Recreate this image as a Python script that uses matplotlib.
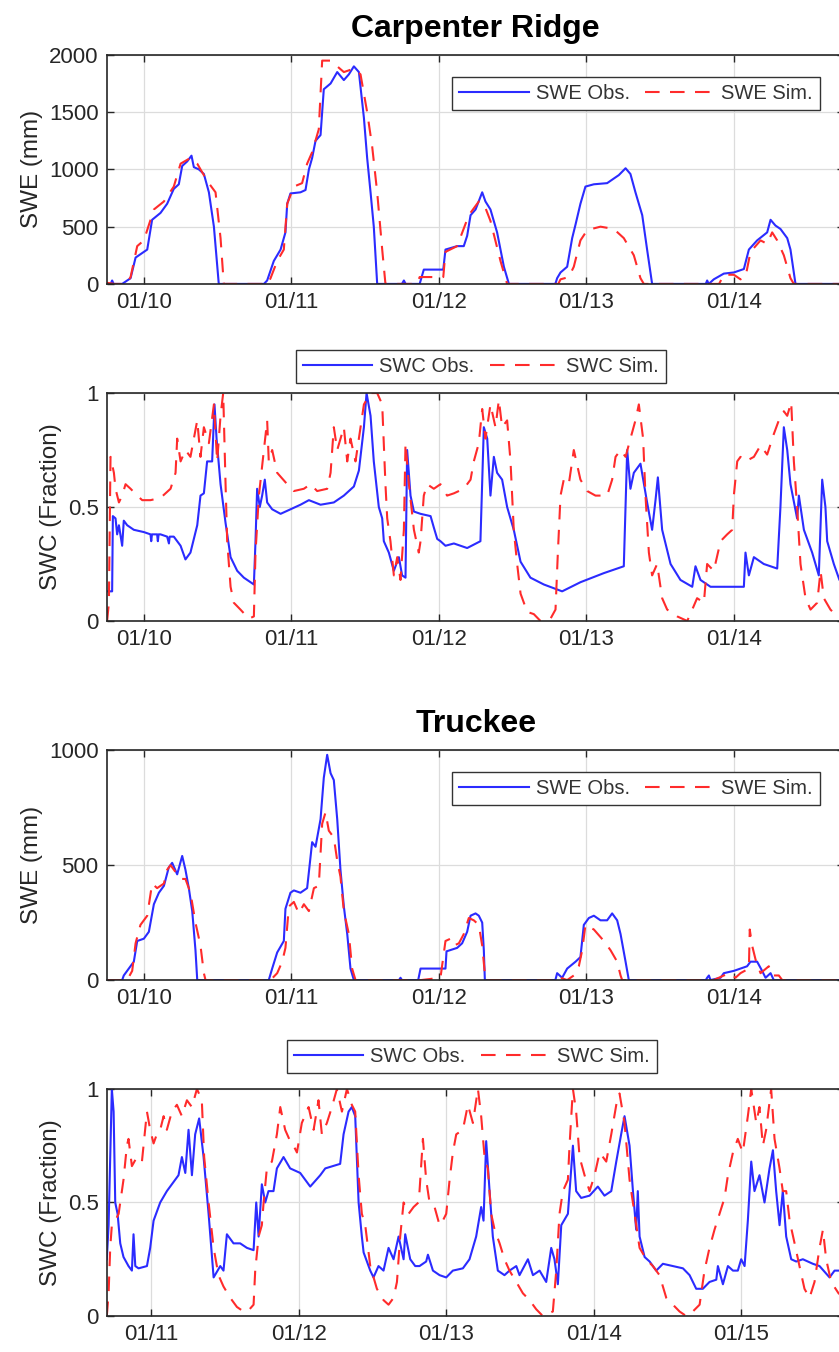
"""Snow water equivalent and snow water content at two sites"""
import matplotlib.pyplot as plt

plt.rcParams['font.family'] = ['Liberation Sans', 'DejaVu Sans']

# Carpenter Ridge, SWE (mm): (decimal year, value)
cr_swe_obs = [
    (2009.75, 0), (2009.775, 0), (2009.785, 30), (2009.795, 0), (2009.853, 0),
    (2009.91, 50), (2009.944, 230), (2010.023, 300), (2010.056, 560),
    (2010.113, 620), (2010.158, 700), (2010.203, 830), (2010.237, 870),
    (2010.26, 1030), (2010.294, 1070), (2010.323, 1120), (2010.339, 1020),
    (2010.373, 1000), (2010.407, 960), (2010.441, 800), (2010.475, 500),
    (2010.508, 0), (2010.814, 0), (2010.836, 30), (2010.881, 200),
    (2010.927, 300), (2010.96, 450), (2010.972, 700), (2010.994, 790),
    (2011.062, 800), (2011.096, 820), (2011.119, 1000), (2011.141, 1100),
    (2011.164, 1250), (2011.198, 1300), (2011.22, 1700), (2011.266, 1750),
    (2011.311, 1850), (2011.356, 1780), (2011.39, 1830), (2011.424, 1900),
    (2011.458, 1850), (2011.492, 1450), (2011.514, 1100), (2011.537, 800),
    (2011.559, 500), (2011.582, 0), (2011.75, 0), (2011.763, 30),
    (2011.775, 0), (2011.87, 0), (2011.898, 125), (2012.03, 125),
    (2012.045, 300), (2012.124, 330), (2012.169, 330), (2012.192, 420),
    (2012.215, 600), (2012.249, 650), (2012.294, 800), (2012.316, 720),
    (2012.35, 650), (2012.395, 450), (2012.441, 150), (2012.475, 0),
    (2012.79, 0), (2012.802, 50), (2012.825, 100), (2012.87, 150),
    (2012.904, 400), (2012.927, 520), (2012.96, 700), (2012.994, 850),
    (2013.051, 870), (2013.141, 880), (2013.186, 920), (2013.22, 950),
    (2013.266, 1010), (2013.299, 960), (2013.333, 800), (2013.379, 600),
    (2013.412, 300), (2013.446, 0), (2013.81, 0), (2013.819, 30),
    (2013.83, 0), (2013.864, 40), (2013.932, 90), (2014.0, 100),
    (2014.068, 130), (2014.102, 300), (2014.158, 380), (2014.226, 450),
    (2014.249, 560), (2014.282, 510), (2014.316, 480), (2014.362, 400),
    (2014.384, 300), (2014.418, 0), (2014.75, 0),
]
cr_swe_sim = [
    (2009.75, 10), (2009.8, 0), (2009.88, 0), (2009.91, 60), (2009.955, 330),
    (2010.0, 380), (2010.068, 650), (2010.136, 720), (2010.203, 850),
    (2010.249, 1050), (2010.316, 1100), (2010.362, 1050), (2010.429, 900),
    (2010.486, 800), (2010.52, 400), (2010.542, 0), (2010.84, 0),
    (2010.859, 50), (2010.904, 200), (2010.949, 300), (2010.972, 700),
    (2011.017, 850), (2011.073, 880), (2011.107, 1050), (2011.141, 1150),
    (2011.186, 1350), (2011.209, 1950), (2011.266, 1950), (2011.311, 1900),
    (2011.356, 1850), (2011.424, 1880), (2011.469, 1830), (2011.514, 1500),
    (2011.548, 1200), (2011.582, 800), (2011.616, 300), (2011.638, 0),
    (2011.85, 0), (2011.87, 60), (2011.989, 60), (2012.03, 60),
    (2012.045, 280), (2012.124, 330), (2012.203, 600), (2012.271, 720),
    (2012.305, 700), (2012.35, 550), (2012.418, 200), (2012.463, 0),
    (2012.81, 0), (2012.825, 40), (2012.881, 60), (2012.915, 150),
    (2012.96, 380), (2013.006, 470), (2013.096, 500), (2013.186, 480),
    (2013.254, 400), (2013.322, 250), (2013.367, 50), (2013.39, 0),
    (2013.9, 0), (2013.932, 80), (2014.0, 80), (2014.023, 60),
    (2014.045, 40), (2014.079, 60), (2014.113, 280), (2014.181, 380),
    (2014.226, 350), (2014.26, 450), (2014.294, 380), (2014.339, 250),
    (2014.384, 50), (2014.407, 0), (2014.75, 0),
]

# Carpenter Ridge, SWC (fraction)
cr_swc_obs = [
    (2009.751, 0.13), (2009.785, 0.13), (2009.79, 0.46), (2009.808, 0.45),
    (2009.819, 0.38), (2009.831, 0.42), (2009.853, 0.33), (2009.864, 0.44),
    (2009.887, 0.42), (2009.932, 0.40), (2010.0, 0.39), (2010.045, 0.38),
    (2010.05, 0.35), (2010.055, 0.38), (2010.09, 0.38), (2010.095, 0.35),
    (2010.1, 0.38), (2010.113, 0.38), (2010.158, 0.37), (2010.17, 0.34),
    (2010.175, 0.37), (2010.203, 0.37), (2010.249, 0.33), (2010.282, 0.27),
    (2010.316, 0.30), (2010.362, 0.42), (2010.384, 0.55), (2010.407, 0.56),
    (2010.429, 0.70), (2010.463, 0.70), (2010.479, 0.95), (2010.493, 0.80),
    (2010.52, 0.60), (2010.554, 0.43), (2010.588, 0.28), (2010.633, 0.22),
    (2010.678, 0.19), (2010.746, 0.16), (2010.757, 0.35), (2010.768, 0.58),
    (2010.786, 0.50), (2010.802, 0.55), (2010.82, 0.62), (2010.836, 0.52),
    (2010.87, 0.49), (2010.927, 0.47), (2010.994, 0.49), (2011.062, 0.51),
    (2011.119, 0.53), (2011.198, 0.51), (2011.288, 0.52), (2011.356, 0.55),
    (2011.424, 0.59), (2011.458, 0.66), (2011.492, 0.85), (2011.51, 1.0),
    (2011.537, 0.90), (2011.559, 0.70), (2011.593, 0.50), (2011.616, 0.45),
    (2011.627, 0.35), (2011.661, 0.30), (2011.695, 0.22), (2011.729, 0.28),
    (2011.751, 0.20), (2011.774, 0.19), (2011.785, 0.75), (2011.808, 0.55),
    (2011.831, 0.48), (2011.876, 0.47), (2011.944, 0.46), (2011.966, 0.41),
    (2011.989, 0.36), (2012.011, 0.35), (2012.045, 0.33), (2012.102, 0.34),
    (2012.192, 0.32), (2012.282, 0.35), (2012.305, 0.85), (2012.328, 0.80),
    (2012.35, 0.55), (2012.373, 0.72), (2012.395, 0.65), (2012.429, 0.62),
    (2012.463, 0.50), (2012.508, 0.40), (2012.554, 0.26), (2012.621, 0.19),
    (2012.712, 0.16), (2012.836, 0.13), (2012.96, 0.17), (2013.119, 0.21),
    (2013.254, 0.24), (2013.277, 0.75), (2013.299, 0.58), (2013.322, 0.65),
    (2013.367, 0.69), (2013.412, 0.52), (2013.446, 0.40), (2013.469, 0.53),
    (2013.485, 0.63), (2013.514, 0.40), (2013.571, 0.25), (2013.638, 0.18),
    (2013.718, 0.15), (2013.74, 0.24), (2013.774, 0.18), (2013.842, 0.15),
    (2013.91, 0.15), (2014.068, 0.15), (2014.079, 0.30), (2014.102, 0.20),
    (2014.136, 0.28), (2014.203, 0.25), (2014.294, 0.23), (2014.316, 0.50),
    (2014.339, 0.85), (2014.362, 0.75), (2014.384, 0.60), (2014.429, 0.45),
    (2014.441, 0.55), (2014.475, 0.40), (2014.531, 0.30), (2014.576, 0.20),
    (2014.599, 0.62), (2014.621, 0.50), (2014.633, 0.35), (2014.678, 0.25),
    (2014.716, 0.18), (2014.75, 0.16),
]
cr_swc_sim = [
    (2009.751, 0.0), (2009.763, 0.08), (2009.774, 0.72), (2009.797, 0.65),
    (2009.808, 0.58), (2009.831, 0.52), (2009.853, 0.55), (2009.876, 0.60),
    (2009.91, 0.58), (2009.955, 0.55), (2009.989, 0.53), (2010.045, 0.53),
    (2010.113, 0.54), (2010.181, 0.58), (2010.215, 0.65), (2010.226, 0.80),
    (2010.249, 0.70), (2010.282, 0.75), (2010.316, 0.72), (2010.362, 0.88),
    (2010.384, 0.72), (2010.407, 0.85), (2010.441, 0.78), (2010.475, 0.95),
    (2010.497, 0.70), (2010.52, 0.90), (2010.538, 1.0), (2010.554, 0.60),
    (2010.565, 0.35), (2010.588, 0.15), (2010.61, 0.08), (2010.655, 0.05),
    (2010.712, 0.01), (2010.746, 0.02), (2010.757, 0.30), (2010.78, 0.55),
    (2010.814, 0.75), (2010.836, 0.88), (2010.847, 0.70), (2010.87, 0.75),
    (2010.904, 0.65), (2010.972, 0.60), (2011.017, 0.57), (2011.085, 0.58),
    (2011.13, 0.60), (2011.175, 0.57), (2011.243, 0.58), (2011.266, 0.65),
    (2011.288, 0.85), (2011.311, 0.75), (2011.356, 0.85), (2011.379, 0.70),
    (2011.401, 0.80), (2011.435, 0.70), (2011.469, 0.85), (2011.492, 0.95),
    (2011.537, 1.0), (2011.582, 1.0), (2011.616, 0.95), (2011.638, 0.60),
    (2011.65, 0.45), (2011.672, 0.35), (2011.695, 0.20), (2011.718, 0.28),
    (2011.74, 0.18), (2011.763, 0.40), (2011.774, 0.78), (2011.797, 0.60),
    (2011.831, 0.40), (2011.864, 0.30), (2011.876, 0.35), (2011.898, 0.55),
    (2011.921, 0.60), (2011.966, 0.58), (2012.011, 0.60), (2012.056, 0.55),
    (2012.102, 0.56), (2012.169, 0.58), (2012.215, 0.62), (2012.237, 0.70),
    (2012.271, 0.78), (2012.294, 0.93), (2012.316, 0.80), (2012.35, 0.95),
    (2012.384, 0.85), (2012.407, 0.97), (2012.429, 0.85), (2012.463, 0.88),
    (2012.486, 0.70), (2012.508, 0.40), (2012.531, 0.25), (2012.554, 0.12),
    (2012.599, 0.04), (2012.644, 0.03), (2012.689, 0.0), (2012.757, 0.01),
    (2012.791, 0.05), (2012.807, 0.30), (2012.825, 0.55), (2012.847, 0.62),
    (2012.881, 0.60), (2012.915, 0.75), (2012.96, 0.62), (2013.006, 0.57),
    (2013.062, 0.55), (2013.141, 0.55), (2013.175, 0.62), (2013.198, 0.72),
    (2013.232, 0.75), (2013.266, 0.72), (2013.299, 0.80), (2013.333, 0.88),
    (2013.356, 0.95), (2013.385, 0.80), (2013.401, 0.55), (2013.424, 0.30),
    (2013.446, 0.20), (2013.48, 0.25), (2013.514, 0.10), (2013.548, 0.05),
    (2013.616, 0.02), (2013.684, 0.0), (2013.718, 0.05), (2013.751, 0.10),
    (2013.797, 0.08), (2013.819, 0.25), (2013.864, 0.22), (2013.91, 0.35),
    (2013.955, 0.38), (2013.989, 0.40), (2014.0, 0.55), (2014.023, 0.70),
    (2014.045, 0.72), (2014.079, 0.70), (2014.136, 0.72), (2014.181, 0.77),
    (2014.226, 0.73), (2014.271, 0.82), (2014.305, 0.88), (2014.339, 0.92),
    (2014.362, 0.90), (2014.389, 0.96), (2014.407, 0.70), (2014.429, 0.50),
    (2014.452, 0.25), (2014.486, 0.10), (2014.52, 0.05), (2014.565, 0.08),
    (2014.588, 0.22), (2014.61, 0.10), (2014.655, 0.05), (2014.701, 0.02),
    (2014.75, 0.0),
]

# Truckee, SWE (mm)
tr_swe_obs = [
    (2009.75, 0), (2009.853, 0), (2009.864, 20), (2009.898, 50),
    (2009.932, 80), (2009.955, 170), (2010.0, 180), (2010.034, 210),
    (2010.068, 330), (2010.102, 380), (2010.136, 410), (2010.169, 490),
    (2010.192, 510), (2010.226, 460), (2010.26, 540), (2010.282, 480),
    (2010.305, 400), (2010.328, 300), (2010.35, 130), (2010.362, 0),
    (2010.847, 0), (2010.87, 50), (2010.904, 120), (2010.949, 170),
    (2010.96, 310), (2010.994, 380), (2011.017, 390), (2011.062, 380),
    (2011.107, 400), (2011.141, 600), (2011.164, 580), (2011.198, 700),
    (2011.22, 880), (2011.243, 980), (2011.266, 900), (2011.288, 870),
    (2011.311, 700), (2011.333, 480), (2011.356, 320), (2011.379, 200),
    (2011.401, 50), (2011.424, 0), (2011.73, 0), (2011.74, 10),
    (2011.75, 0), (2011.86, 0), (2011.876, 50), (2012.045, 50),
    (2012.052, 125), (2012.124, 140), (2012.158, 160), (2012.192, 210),
    (2012.215, 280), (2012.249, 290), (2012.271, 280), (2012.294, 250),
    (2012.305, 130), (2012.312, 0), (2012.79, 0), (2012.802, 30),
    (2012.836, 10), (2012.87, 50), (2012.927, 80), (2012.96, 100),
    (2012.983, 240), (2013.017, 270), (2013.051, 280), (2013.096, 260),
    (2013.141, 260), (2013.175, 290), (2013.209, 260), (2013.232, 200),
    (2013.266, 80), (2013.288, 0), (2013.81, 0), (2013.819, 10),
    (2013.831, 20), (2013.842, 0), (2013.91, 10), (2013.932, 30),
    (2014.0, 40), (2014.045, 50), (2014.09, 60), (2014.113, 80),
    (2014.158, 80), (2014.192, 40), (2014.215, 10), (2014.249, 30),
    (2014.271, 0), (2014.75, 0),
]
tr_swe_sim = [
    (2009.75, 0), (2009.887, 0), (2009.921, 40), (2009.944, 160),
    (2009.977, 240), (2010.023, 280), (2010.056, 420), (2010.09, 400),
    (2010.136, 420), (2010.158, 480), (2010.181, 500), (2010.215, 470),
    (2010.249, 440), (2010.282, 440), (2010.316, 380), (2010.35, 250),
    (2010.384, 150), (2010.407, 30), (2010.418, 0), (2010.859, 0),
    (2010.904, 30), (2010.938, 80), (2010.96, 140), (2010.983, 320),
    (2011.017, 340), (2011.051, 290), (2011.085, 330), (2011.119, 300),
    (2011.153, 400), (2011.186, 410), (2011.209, 680), (2011.232, 730),
    (2011.254, 650), (2011.288, 620), (2011.311, 520), (2011.333, 450),
    (2011.356, 300), (2011.39, 200), (2011.412, 50), (2011.435, 0),
    (2011.88, 0), (2012.011, 10), (2012.045, 170), (2012.079, 180),
    (2012.102, 150), (2012.136, 160), (2012.169, 200), (2012.203, 270),
    (2012.237, 260), (2012.271, 240), (2012.294, 150), (2012.316, 0),
    (2012.81, 0), (2012.825, 10), (2012.87, 0), (2012.915, 20),
    (2012.949, 60), (2012.972, 130), (2012.994, 240), (2013.051, 220),
    (2013.119, 170), (2013.164, 130), (2013.209, 80), (2013.232, 20),
    (2013.243, 0), (2013.864, 0), (2013.932, 20), (2013.977, 30),
    (2014.011, 10), (2014.045, 30), (2014.102, 50), (2014.108, 220),
    (2014.124, 150), (2014.147, 90), (2014.181, 30), (2014.237, 60),
    (2014.26, 20), (2014.305, 20), (2014.328, 0), (2014.75, 0),
]

# Truckee, SWC (fraction)
tr_swc_obs = [
    (2010.699, 0.25), (2010.711, 0.40), (2010.733, 1.0), (2010.745, 0.90),
    (2010.756, 0.50), (2010.772, 0.45), (2010.79, 0.32), (2010.812, 0.26),
    (2010.846, 0.22), (2010.869, 0.20), (2010.88, 0.36), (2010.892, 0.22),
    (2010.914, 0.21), (2010.971, 0.22), (2010.993, 0.30), (2011.016, 0.42),
    (2011.061, 0.50), (2011.106, 0.55), (2011.151, 0.59), (2011.185, 0.62),
    (2011.208, 0.70), (2011.231, 0.63), (2011.253, 0.82), (2011.276, 0.62),
    (2011.298, 0.80), (2011.325, 0.87), (2011.355, 0.70), (2011.389, 0.45),
    (2011.423, 0.17), (2011.468, 0.22), (2011.49, 0.20), (2011.513, 0.36),
    (2011.558, 0.32), (2011.603, 0.32), (2011.649, 0.30), (2011.694, 0.29),
    (2011.712, 0.50), (2011.728, 0.35), (2011.75, 0.58), (2011.773, 0.50),
    (2011.795, 0.55), (2011.829, 0.55), (2011.852, 0.65), (2011.897, 0.70),
    (2011.942, 0.65), (2012.01, 0.63), (2012.078, 0.57), (2012.146, 0.62),
    (2012.18, 0.65), (2012.281, 0.67), (2012.304, 0.80), (2012.338, 0.90),
    (2012.36, 0.92), (2012.383, 0.88), (2012.406, 0.50), (2012.428, 0.35),
    (2012.44, 0.28), (2012.485, 0.20), (2012.507, 0.17), (2012.541, 0.22),
    (2012.575, 0.20), (2012.609, 0.30), (2012.643, 0.25), (2012.677, 0.35),
    (2012.711, 0.25), (2012.722, 0.36), (2012.756, 0.25), (2012.79, 0.22),
    (2012.819, 0.22), (2012.864, 0.24), (2012.876, 0.27), (2012.91, 0.20),
    (2012.955, 0.18), (2013.0, 0.17), (2013.045, 0.20), (2013.113, 0.21),
    (2013.158, 0.25), (2013.203, 0.35), (2013.237, 0.48), (2013.253, 0.42),
    (2013.271, 0.77), (2013.294, 0.55), (2013.316, 0.35), (2013.35, 0.20),
    (2013.395, 0.18), (2013.429, 0.20), (2013.475, 0.22), (2013.497, 0.18),
    (2013.554, 0.25), (2013.588, 0.18), (2013.633, 0.20), (2013.678, 0.15),
    (2013.712, 0.30), (2013.734, 0.25), (2013.757, 0.14), (2013.78, 0.40),
    (2013.825, 0.45), (2013.859, 0.75), (2013.881, 0.55), (2013.915, 0.52),
    (2013.972, 0.53), (2014.028, 0.57), (2014.073, 0.53), (2014.119, 0.55),
    (2014.153, 0.68), (2014.186, 0.80), (2014.209, 0.88), (2014.243, 0.75),
    (2014.266, 0.55), (2014.288, 0.38), (2014.299, 0.55), (2014.311, 0.35),
    (2014.345, 0.26), (2014.379, 0.24), (2014.424, 0.20), (2014.469, 0.23),
    (2014.537, 0.22), (2014.605, 0.21), (2014.65, 0.18), (2014.695, 0.12),
    (2014.74, 0.12), (2014.785, 0.15), (2014.831, 0.16), (2014.842, 0.22),
    (2014.876, 0.14), (2014.91, 0.22), (2014.944, 0.20), (2014.977, 0.20),
    (2015.0, 0.25), (2015.023, 0.22), (2015.045, 0.42), (2015.068, 0.68),
    (2015.09, 0.55), (2015.124, 0.62), (2015.158, 0.50), (2015.192, 0.65),
    (2015.215, 0.73), (2015.237, 0.55), (2015.26, 0.40), (2015.282, 0.55),
    (2015.305, 0.35), (2015.339, 0.25), (2015.373, 0.24), (2015.418, 0.25),
    (2015.486, 0.23), (2015.531, 0.22), (2015.599, 0.17), (2015.633, 0.20),
    (2015.7, 0.20),
]
tr_swc_sim = [
    (2010.699, 0.0), (2010.711, 0.10), (2010.722, 0.30), (2010.733, 0.40),
    (2010.756, 0.42), (2010.779, 0.45), (2010.812, 0.60), (2010.835, 0.75),
    (2010.846, 0.78), (2010.869, 0.66), (2010.903, 0.70), (2010.937, 0.68),
    (2010.971, 0.90), (2010.993, 0.82), (2011.016, 0.76), (2011.038, 0.80),
    (2011.061, 0.82), (2011.084, 0.88), (2011.106, 0.82), (2011.14, 0.90),
    (2011.174, 0.93), (2011.208, 0.88), (2011.242, 0.95), (2011.276, 0.92),
    (2011.31, 1.0), (2011.343, 0.95), (2011.359, 0.70), (2011.389, 0.50),
    (2011.423, 0.30), (2011.456, 0.18), (2011.49, 0.13), (2011.536, 0.08),
    (2011.581, 0.04), (2011.626, 0.02), (2011.653, 0.02), (2011.694, 0.05),
    (2011.705, 0.20), (2011.728, 0.35), (2011.75, 0.40), (2011.762, 0.50),
    (2011.784, 0.65), (2011.818, 0.68), (2011.852, 0.80), (2011.875, 0.92),
    (2011.908, 0.82), (2011.942, 0.77), (2011.965, 0.75), (2011.988, 0.72),
    (2012.021, 0.85), (2012.067, 0.92), (2012.101, 0.82), (2012.134, 0.95),
    (2012.157, 0.80), (2012.191, 0.85), (2012.225, 0.92), (2012.259, 1.0),
    (2012.293, 0.90), (2012.327, 1.0), (2012.36, 0.93), (2012.383, 0.90),
    (2012.406, 0.62), (2012.428, 0.45), (2012.451, 0.40), (2012.485, 0.22),
    (2012.53, 0.12), (2012.575, 0.07), (2012.609, 0.05), (2012.643, 0.08),
    (2012.666, 0.15), (2012.688, 0.35), (2012.711, 0.50), (2012.745, 0.45),
    (2012.779, 0.48), (2012.812, 0.50), (2012.819, 0.55), (2012.842, 0.78),
    (2012.864, 0.60), (2012.887, 0.50), (2012.921, 0.48), (2012.955, 0.40),
    (2012.977, 0.42), (2013.0, 0.45), (2013.023, 0.60), (2013.045, 0.72),
    (2013.068, 0.80), (2013.113, 0.82), (2013.147, 0.93), (2013.181, 0.85),
    (2013.215, 1.0), (2013.237, 0.88), (2013.26, 0.70), (2013.282, 0.65),
    (2013.305, 0.45), (2013.328, 0.38), (2013.362, 0.32), (2013.395, 0.25),
    (2013.429, 0.20), (2013.475, 0.15), (2013.52, 0.10), (2013.565, 0.07),
    (2013.61, 0.03), (2013.655, 0.0), (2013.723, 0.02), (2013.746, 0.20),
    (2013.768, 0.45), (2013.791, 0.55), (2013.825, 0.60), (2013.836, 0.75),
    (2013.859, 1.0), (2013.881, 0.90), (2013.904, 0.70), (2013.938, 0.62),
    (2013.972, 0.55), (2014.006, 0.62), (2014.04, 0.72), (2014.085, 0.68),
    (2014.119, 0.80), (2014.153, 0.93), (2014.175, 0.98), (2014.209, 0.85),
    (2014.243, 0.60), (2014.277, 0.45), (2014.311, 0.30), (2014.356, 0.25),
    (2014.401, 0.22), (2014.446, 0.18), (2014.492, 0.08), (2014.537, 0.05),
    (2014.582, 0.02), (2014.627, 0.0), (2014.672, 0.02), (2014.718, 0.05),
    (2014.751, 0.20), (2014.785, 0.30), (2014.819, 0.38), (2014.853, 0.45),
    (2014.887, 0.52), (2014.91, 0.62), (2014.944, 0.72), (2014.977, 0.78),
    (2015.011, 0.72), (2015.045, 0.88), (2015.068, 1.0), (2015.102, 0.85),
    (2015.124, 0.92), (2015.147, 0.75), (2015.169, 0.82), (2015.203, 1.0),
    (2015.226, 0.78), (2015.26, 0.65), (2015.282, 0.55), (2015.305, 0.55),
    (2015.328, 0.42), (2015.362, 0.32), (2015.395, 0.22), (2015.429, 0.12),
    (2015.463, 0.08), (2015.497, 0.15), (2015.531, 0.30), (2015.554, 0.38),
    (2015.576, 0.25), (2015.61, 0.15), (2015.66, 0.10), (2015.7, 0.08),
]

ticks_1014 = [2010, 2011, 2012, 2013, 2014]
labels_1014 = ['01/10', '01/11', '01/12', '01/13', '01/14']
ticks_1115 = [2011, 2012, 2013, 2014, 2015]
labels_1115 = ['01/11', '01/12', '01/13', '01/14', '01/15']

GREY = '#262626'


def draw_panel(ax, obs, sim, names, ylabel, xlim, ylim, yticks, ytick_labels,
               xticks, xtick_labels):
    """Trace observé / simulé sur un axe, façon MATLAB"""
    t_obs, v_obs = zip(*obs)
    t_sim, v_sim = zip(*sim)
    ax.plot(t_obs, v_obs, color='#2b2bff', lw=1.5, label=names[0])
    ax.plot(t_sim, v_sim, color='#ff2b2b', lw=1.5, ls=(0, (7, 5)),
            label=names[1])
    ax.set_xlim(*xlim)
    ax.set_ylim(*ylim)
    ax.set_xticks(xticks)
    ax.set_xticklabels(xtick_labels)
    ax.set_yticks(yticks)
    ax.set_yticklabels(ytick_labels)
    ax.set_ylabel(ylabel, fontsize=17.5, color=GREY)
    ax.grid(True, color='#dcdcdc', lw=0.9)
    ax.set_axisbelow(True)
    ax.tick_params(direction='in', length=5, width=1, colors=GREY,
                   labelsize=16, top=True, right=True, pad=6)
    for spine in ax.spines.values():
        spine.set_color(GREY)
        spine.set_linewidth(1.2)


def legend_style():
    """Cadre de légende commun"""
    return dict(ncol=2, fontsize=14.5, frameon=True, fancybox=False,
                edgecolor='#333333', framealpha=1, handlelength=3.45,
                handletextpad=0.35, columnspacing=0.75, borderpad=0.35,
                borderaxespad=0, labelcolor='#333333')


if __name__ == "__main__":
    fig = plt.figure(figsize=(8.39, 13.52), dpi=100)
    left, width = 0.1275, 0.879
    ax1 = fig.add_axes([left, 0.790, width, 0.1694])
    ax2 = fig.add_axes([left, 0.5407, width, 0.1686])
    ax3 = fig.add_axes([left, 0.2751, width, 0.1700])
    ax4 = fig.add_axes([left, 0.0266, width, 0.1680])

    draw_panel(ax1, cr_swe_obs, cr_swe_sim, ('SWE Obs.', 'SWE Sim.'),
               'SWE (mm)', (2009.75, 2014.75), (0, 2000),
               [0, 500, 1000, 1500, 2000], ['0', '500', '1000', '1500', '2000'],
               ticks_1014, labels_1014)
    draw_panel(ax2, cr_swc_obs, cr_swc_sim, ('SWC Obs.', 'SWC Sim.'),
               'SWC (Fraction)', (2009.75, 2014.75), (0, 1),
               [0, 0.5, 1], ['0', '0.5', '1'], ticks_1014, labels_1014)
    draw_panel(ax3, tr_swe_obs, tr_swe_sim, ('SWE Obs.', 'SWE Sim.'),
               'SWE (mm)', (2009.75, 2014.75), (0, 1000),
               [0, 500, 1000], ['0', '500', '1000'], ticks_1014, labels_1014)
    draw_panel(ax4, tr_swc_obs, tr_swc_sim, ('SWC Obs.', 'SWC Sim.'),
               'SWC (Fraction)', (2010.70, 2015.70), (0, 1),
               [0, 0.5, 1], ['0', '0.5', '1'], ticks_1115, labels_1115)

    ax1.set_title('Carpenter Ridge', fontsize=23, fontweight='bold', pad=13)
    ax3.set_title('Truckee', fontsize=23, fontweight='bold', pad=13)

    ax1.legend(loc='upper right', bbox_to_anchor=(0.967, 0.904),
               **legend_style())
    ax3.legend(loc='upper right', bbox_to_anchor=(0.967, 0.904),
               **legend_style())
    ax2.legend(loc='lower center', bbox_to_anchor=(0.507, 1.045),
               **legend_style())
    ax4.legend(loc='lower center', bbox_to_anchor=(0.495, 1.07),
               **legend_style())

    fig.savefig('out.png', dpi=100)
